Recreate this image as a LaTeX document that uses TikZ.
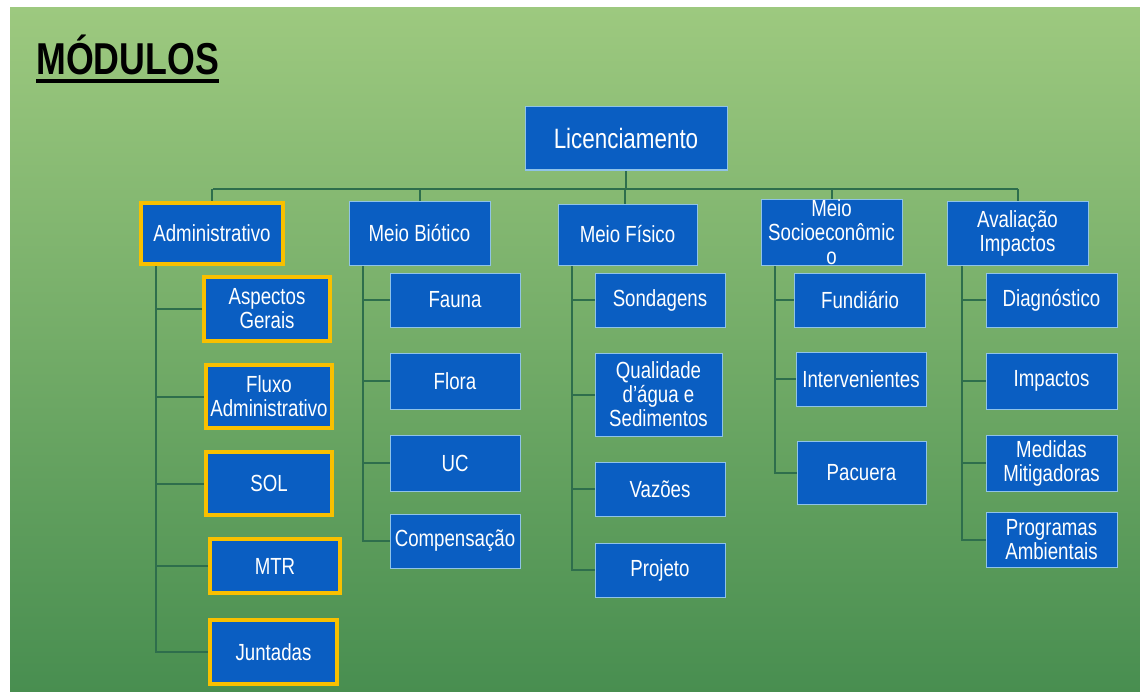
\documentclass[tikz,border=0pt]{standalone}
\usepackage{fontspec}
\setmainfont[FakeStretch=0.8]{Liberation Sans}
\definecolor{boxblue}{HTML}{0A5EC2}
\definecolor{edgec}{HTML}{8FC3E8}
\definecolor{ylw}{HTML}{F8C000}
\definecolor{linec}{HTML}{2E6E4C}
\definecolor{bgtop}{HTML}{9DC97F}
\definecolor{bgmid}{HTML}{7DB464}
\definecolor{bgbot}{HTML}{488E50}
\pgfdeclarelayer{background}
\pgfsetlayers{background,main}
\tikzset{
  box/.style={draw=edgec, line width=0.75pt, fill=boxblue, text=white, align=center,
              inner sep=0pt, font=\fontsize{17.5}{18}\selectfont},
  ybox/.style={box, draw=ylw, line width=2.6pt},
  dims/.style 2 args={minimum width=#1*0.75pt, minimum height=#2*0.75pt},
  conn/.style={draw=linec, line width=1.5pt},
}
\begin{document}
\begin{tikzpicture}[x=0.75pt, y=-0.75pt]
\useasboundingbox (0,0) rectangle (1140,692);
% title
\node[anchor=base west, inner sep=0pt, font=\bfseries\fontsize{33.5}{36}\selectfont] (title) at (36,75) {MÓDULOS};
% root
\node[box, font=\fontsize{21}{22}\selectfont, dims={202}{63}] (lic) at (626,138.5) {Licenciamento};
% level 1
\node[ybox, dims={142}{61}] (adm) at (212,233.5) {Administrativo};
\node[box, dims={141}{64}] (mb) at (419.5,233) {Meio Biótico};
\node[box, dims={139}{61}] (mf) at (627.5,234.5) {Meio Físico};
\node[box, dims={141}{61}] (ms) at (831.5,232.5) {Meio\\Socioeconômic\\o};
\node[box, dims={141}{64}] (ai) at (1017.5,233) {Avaliação\\Impactos};
% Administrativo children
\node[ybox, dims={126}{64}] (ag) at (267,309) {Aspectos\\Gerais};
\node[ybox, dims={126}{63}] (fa) at (269,396.5) {Fluxo\\Administrativo};
\node[ybox, dims={126}{63}] (sol) at (269,483.5) {SOL};
\node[ybox, dims={130}{54}] (mtr) at (275,566) {MTR};
\node[ybox, dims={127}{64}] (jun) at (273.5,652) {Juntadas};
% Meio Biotico children
\node[box, dims={130}{54}] (fau) at (455,300) {Fauna};
\node[box, dims={130}{56}] (flo) at (455,381) {Flora};
\node[box, dims={130}{56}] (uc) at (455,463) {UC};
\node[box, dims={130}{54}] (comp) at (455,541) {Compensação};
% Meio Fisico children
\node[box, dims={130}{54}] (son) at (660,300) {Sondagens};
\node[box, dims={127}{83}] (qual) at (658.5,394.5) {Qualidade\\d’água e\\Sedimentos};
\node[box, dims={130}{54}] (vaz) at (660,489) {Vazões};
\node[box, dims={130}{54}] (proj) at (660,570) {Projeto};
% Meio Socioeconomico children
\node[box, dims={131}{54}] (fun) at (860,300) {Fundiário};
\node[box, dims={130}{54}] (int) at (861,379) {Intervenientes};
\node[box, dims={129}{63}] (pac) at (861.5,472.5) {Pacuera};
% Avaliacao children
\node[box, dims={131}{54}] (diag) at (1051.5,300) {Diagnóstico};
\node[box, dims={131}{56}] (imp) at (1051.5,381) {Impactos};
\node[box, dims={131}{56}] (med) at (1051.5,463) {Medidas\\Mitigadoras};
\node[box, dims={131}{55}] (prog) at (1051.5,539.5) {Programas\\Ambientais};

\begin{pgfonlayer}{background}
  \fill[white] (0,0) rectangle (1140,692);
  \shade[top color=bgtop, middle color=bgmid, bottom color=bgbot] (10,8) rectangle (1140,692);
  \draw[line width=2.3pt] ([yshift=-4.5pt]title.base west) -- ([yshift=-4.5pt]title.base east);
  % bus
  \coordinate (busL) at (213,189);
  \coordinate (busR) at (1018,189);
  \draw[conn] (busL) -- (busR);
  \draw[conn] (lic.south) -- (lic.south |- busL);
  \foreach \n in {adm,mb,ms,ai} \draw[conn] (\n.north |- busL) -- (\n.north);
  \draw[conn] (625,189) -- (mf.north -| 625,0);
  % trunks
  \coordinate (tA) at (156,0);
  \coordinate (tB) at (363,0);
  \coordinate (tC) at (572,0);
  \coordinate (tD) at (775,0);
  \coordinate (tE) at (962,0);
  \draw[conn] (adm.south -| tA) |- (jun.west);
  \foreach \n in {ag,fa,sol,mtr} \draw[conn] (tA |- \n.west) -- (\n.west);
  \draw[conn] (mb.south -| tB) |- (comp.west);
  \foreach \n in {fau,flo,uc} \draw[conn] (tB |- \n.west) -- (\n.west);
  \draw[conn] (mf.south -| tC) |- (proj.west);
  \foreach \n in {son,qual,vaz} \draw[conn] (tC |- \n.west) -- (\n.west);
  \draw[conn] (ms.south -| tD) |- (pac.west);
  \foreach \n in {fun,int} \draw[conn] (tD |- \n.west) -- (\n.west);
  \draw[conn] (ai.south -| tE) |- (prog.west);
  \foreach \n in {diag,imp,med} \draw[conn] (tE |- \n.west) -- (\n.west);
\end{pgfonlayer}
\end{tikzpicture}
\end{document}
